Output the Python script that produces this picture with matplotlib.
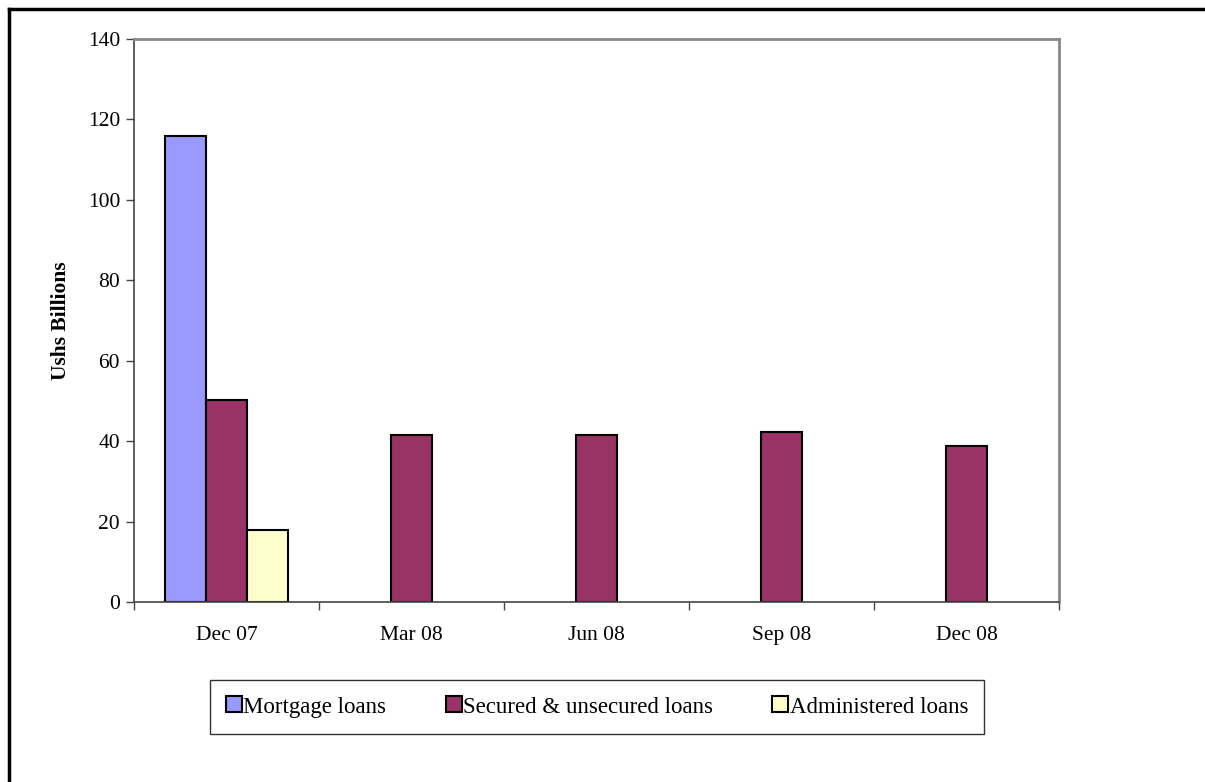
import matplotlib.pyplot as plt
import numpy as np
from matplotlib.lines import Line2D

plt.rcParams['font.family'] = ['Liberation Serif', 'DejaVu Serif']

quarters = ["Dec 07", "Mar 08", "Jun 08", "Sep 08", "Dec 08"]
mortgage = [116, np.nan, np.nan, np.nan, np.nan]
secured = [50.3, 41.5, 41.5, 42.3, 38.7]
administered = [18, np.nan, np.nan, np.nan, np.nan]

fig = plt.figure(figsize=(12.05, 7.82), dpi=100)
ax = fig.add_axes([0.1112, 0.2302, 0.7676, 0.7199])

x = np.arange(len(quarters))
width = 0.222
ax.bar(x - width, mortgage, width, color="#9999FF", edgecolor="black", linewidth=1.5,
       label="Mortgage loans")
ax.bar(x, secured, width, color="#993366", edgecolor="black", linewidth=1.5,
       label="Secured & unsecured loans")
ax.bar(x + width, administered, width, color="#FFFFCC", edgecolor="black", linewidth=1.5,
       label="Administered loans")

ax.set_xlim(-0.5, len(quarters) - 0.5)
ax.set_ylim(0, 140)
ax.set_yticks(np.arange(0, 141, 20))
ax.set_xticks(x)
ax.set_xticklabels(quarters)
ax.set_xticks(np.arange(-0.5, len(quarters)), minor=True)
ax.tick_params(axis="x", which="major", length=0, pad=17, labelsize=15.5)
ax.tick_params(axis="x", which="minor", length=6, width=1, color="#444444")
ax.tick_params(axis="y", length=6, width=1, color="#444444", labelsize=15.5, pad=4)

for s in ["left", "bottom"]:
    ax.spines[s].set_color("#444444")
    ax.spines[s].set_linewidth(1.2)
for s in ["top", "right"]:
    ax.spines[s].set_color("#888888")
    ax.spines[s].set_linewidth(2)

ax.set_ylabel("Ushs Billions", fontsize=15.5, fontweight="bold", labelpad=12)

handles = [Line2D([], [], marker="s", linestyle="none", markersize=11,
                  markerfacecolor=c, markeredgecolor="black", markeredgewidth=1.5)
           for c in ["#9999FF", "#993366", "#FFFFCC"]]
labels = ["Mortgage loans", "Secured & unsecured loans", "Administered loans"]
leg = fig.legend(handles, labels, loc="center", bbox_to_anchor=(597 / 1205, 1 - 707 / 782),
                 ncol=3, fontsize=16.5, frameon=True, fancybox=False, edgecolor="black",
                 handlelength=0.7, handletextpad=0.05, columnspacing=2.6,
                 borderpad=0.7, borderaxespad=0)
leg.get_frame().set_linewidth(1)

# outer chart border (top and left visible)
fig.add_artist(Line2D([9 / 1205, 1], [1 - 9 / 782, 1 - 9 / 782], color="black", linewidth=2.5))
fig.add_artist(Line2D([9 / 1205, 9 / 1205], [0, 1 - 9 / 782], color="black", linewidth=2.5))

fig.savefig("out.png", dpi=100)
